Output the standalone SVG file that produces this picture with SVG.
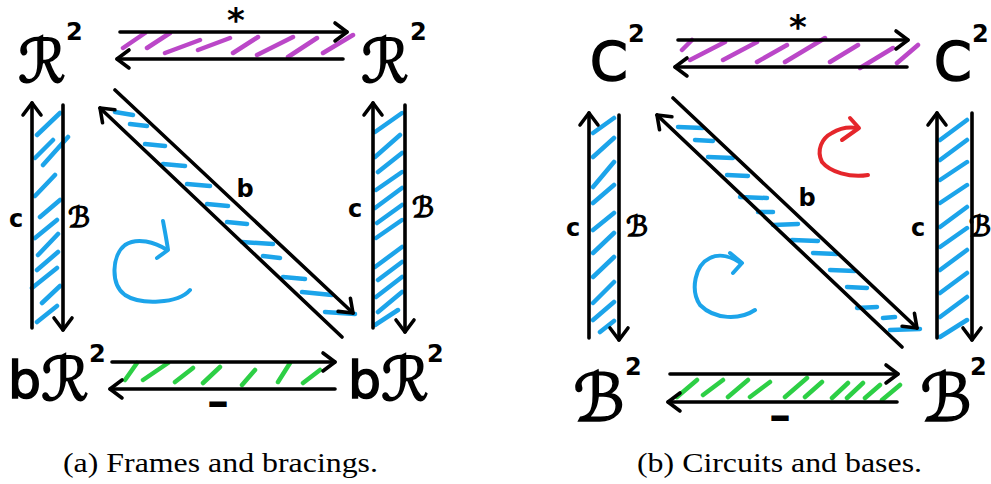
<svg xmlns="http://www.w3.org/2000/svg" width="991" height="484" viewBox="0 0 991 484">
<style>
.ar{fill:none;stroke:#000;stroke-width:3.6;stroke-linecap:round;marker-end:url(#ah)}
.hp{fill:none;stroke:#bb47c8;stroke-width:4.5;stroke-linecap:round}
.hb{fill:none;stroke:#1ca4ea;stroke-width:4.5;stroke-linecap:round}
.hg{fill:none;stroke:#2dcf45;stroke-width:4.5;stroke-linecap:round}
.rb{fill:none;stroke:#1ca4ea;stroke-width:4;stroke-linecap:round;stroke-linejoin:round}
.rr{fill:none;stroke:#e5262b;stroke-width:4;stroke-linecap:round;stroke-linejoin:round}
.big{font-family:"DejaVu Sans",sans-serif;font-size:60px;fill:#000;stroke:#000;stroke-width:1.6}
.sup{font-size:24px;font-weight:bold;stroke:none}
.lab{font-family:"DejaVu Sans",sans-serif;font-size:24px;font-weight:bold;fill:#000;text-anchor:middle}
.scr{font-family:"DejaVu Sans",sans-serif;font-size:28px;fill:#000;stroke:#000;stroke-width:1.4;text-anchor:middle}
.cap{font-family:"Liberation Serif",serif;font-size:28px;fill:#000}
</style>
<defs>
<marker id="ah" markerWidth="20" markerHeight="24" refX="14" refY="12" orient="auto" markerUnits="userSpaceOnUse" overflow="visible">
<path d="M2,3 L14,12 L2,21" fill="none" stroke="#000" stroke-width="3.6" stroke-linecap="round" stroke-linejoin="round"/>
</marker>
</defs>

<!-- hatching (left panel) -->
<g id="hatch-a">
<path class="hp" d="M123,48 L145,33 M147,48 L170,33 M165,53 L200,40 M198,50 L230,38 M233,53 L258,37 M257,55 L293,37 M288,57 L317,38 M323,53 L353,35"/>
<path class="hb" d="M37,135 L60,113 M35,158 L53,140 M43,165 L68,137 M35,196 L55,175 M40,217 L60,200 M35,238 L57,220 M38,255 L58,234 M37,270 L58,252 M32,288 L57,268 M42,303 L60,286 M37,322 L57,306"/>
<path class="hb" d="M375,132 L402,113 M375,157 L400,135 M378,172 L402,153 M376,190 L402,172 M375,208 L402,188 M377,223 L402,205 M376,238 L402,220 M375,267 L402,247 M378,280 L402,262 M376,297 L402,277 M378,312 L402,292 M375,325 L398,310"/>
<path class="hb" d="M115,112 L133,115 M130,124 L147,126 M145,144 L165,146 M163,164 L185,166 M187,184 L210,186 M207,204 L228,206 M227,222 L247,224 M242,242 L273,244 M263,256 L280,258 M283,277 L305,279 M302,292 L332,295 M325,312 L355,314"/>
<path class="hg" d="M125,380 L137,363 M143,380 L168,363 M175,382 L193,368 M203,383 L220,367 M242,385 L255,370 M278,382 L290,363 M303,383 L320,370"/>
</g>

<!-- hatching (right panel) -->
<g id="hatch-b">
<path class="hp" d="M682,50 L692,40 M690,60 L725,42 M723,60 L757,42 M757,62 L787,45 M785,62 L825,38 M830,62 L858,45 M860,68 L893,48 M897,63 L918,45"/>
<path class="hb" d="M593,133 L614,118 M593,157 L614,138 M593,187 L614,162 M593,203 L614,185 M593,230 L614,213 M593,253 L614,233 M593,277 L614,257 M593,303 L614,282 M593,320 L614,302 M600,332 L614,321"/>
<path class="hb" d="M940,140 L967,120 M940,160 L967,140 M940,180 L967,162 M940,203 L967,185 M940,227 L967,207 M940,247 L967,228 M940,270 L967,250 M940,293 L967,273 M940,317 L967,297 M940,337 L967,320"/>
<path class="hb" d="M678,127 L703,128 M695,140 L713,141 M708,157 L733,158 M727,175 L748,176 M740,197 L767,198 M758,212 L773,212 M773,225 L798,224 M792,240 L818,241 M813,253 L837,254 M830,270 L855,271 M847,287 L867,288 M857,308 L877,307 M883,318 L895,317 M890,330 L920,329"/>
<path class="hg" d="M677,397 L697,380 M703,395 L723,380 M728,397 L748,380 M750,397 L770,382 M785,397 L807,378 M805,397 L822,382 M832,398 L848,383 M847,398 L863,383 M865,398 L880,385 M882,400 L900,385"/>
</g>

<!-- connectors -->
<g id="connectors">
<path class="ar" d="M120,32 H347"/>
<path class="ar" d="M343,59 H117"/>
<path class="ar" d="M32,328 V103"/>
<path class="ar" d="M63,105 V330"/>
<path class="ar" d="M373,328 V103"/>
<path class="ar" d="M405,105 V332"/>
<path class="ar" d="M115,90 L353,313"/>
<path class="ar" d="M342,337 L100,108"/>
<path class="ar" d="M112,362 H335"/>
<path class="ar" d="M335,389 H110"/>

<path class="ar" d="M678,40 H908"/>
<path class="ar" d="M907,67 H675"/>
<path class="ar" d="M589,338 V113"/>
<path class="ar" d="M619,115 V340"/>
<path class="ar" d="M937,338 V113"/>
<path class="ar" d="M972,113 V340"/>
<path class="ar" d="M673,98 L917,328"/>
<path class="ar" d="M902,347 L657,115"/>
<path class="ar" d="M670,374 H898"/>
<path class="ar" d="M897,402 H668"/>
</g>

<!-- connector labels -->
<g id="labels">
<text class="lab" x="236" y="32" style="font-size:34px">*</text>
<text class="lab" x="16" y="227">c</text>
<text class="scr" x="79" y="227">ℬ</text>
<text class="lab" x="355" y="217">c</text>
<text class="scr" x="423" y="217">ℬ</text>
<text class="lab" x="245" y="197">b</text>
<text class="lab" x="218" y="416" style="font-size:44px">–</text>

<text class="lab" x="798" y="39" style="font-size:34px">*</text>
<text class="lab" x="573" y="236">c</text>
<text class="scr" x="637" y="236">ℬ</text>
<text class="lab" x="918" y="236">c</text>
<text class="scr" x="980" y="236">ℬ</text>
<text class="lab" x="807" y="206">b</text>
<text class="lab" x="780" y="430" style="font-size:44px">–</text>
</g>

<!-- rotation marks -->
<g id="rotations">
<path class="rb" d="M190,290 C178,304 140,305 125,295 C110,284 112,255 125,245 C137,237 155,242 167,250"/>
<path class="rb" d="M163,221 C165,232 167,242 168,250 L157,258"/>
<path class="rb" d="M755,310 C740,320 715,320 700,305 C690,290 695,265 710,258 C720,253 732,257 741,263"/>
<path class="rb" d="M730,253 L742,263 L733,273"/>
<path class="rr" d="M868,175 C850,178 830,172 822,162 C816,150 822,138 832,133 C840,128 850,127 857,128"/>
<path class="rr" d="M850,118 L859,128 L842,140"/>
</g>

<!-- nodes -->
<g id="n-R2-tl"><text class="big" x="18" y="82">ℛ<tspan class="sup" x="66" y="40">2</tspan></text></g>
<g id="n-R2-tr"><text class="big" x="361" y="82">ℛ<tspan class="sup" x="410" y="40">2</tspan></text></g>
<g id="n-bR2-bl"><text class="big" x="8" y="398"><tspan style="font-size:52px">b</tspan><tspan x="41" y="400">ℛ</tspan><tspan class="sup" x="89" y="362">2</tspan></text></g>
<g id="n-bR2-br"><text class="big" x="348" y="398"><tspan style="font-size:52px">b</tspan><tspan x="381" y="400">ℛ</tspan><tspan class="sup" x="427" y="362">2</tspan></text></g>

<g id="n-C2-tl"><text class="big" x="590" y="80" style="font-size:54px">C<tspan class="sup" x="628" y="42">2</tspan></text></g>
<g id="n-C2-tr"><text class="big" x="934" y="80" style="font-size:54px">C<tspan class="sup" x="972" y="42">2</tspan></text></g>
<g id="n-B2-bl"><text class="big" x="573" y="421" style="font-size:66px">ℬ<tspan class="sup" x="625" y="375">2</tspan></text></g>
<g id="n-B2-br"><text class="big" x="920" y="421" style="font-size:66px">ℬ<tspan class="sup" x="970" y="375">2</tspan></text></g>

<!-- captions -->
<text class="cap" x="63" y="472" textLength="315" lengthAdjust="spacingAndGlyphs">(a) Frames and bracings.</text>
<text class="cap" x="637" y="472" textLength="285" lengthAdjust="spacingAndGlyphs">(b) Circuits and bases.</text>
</svg>
